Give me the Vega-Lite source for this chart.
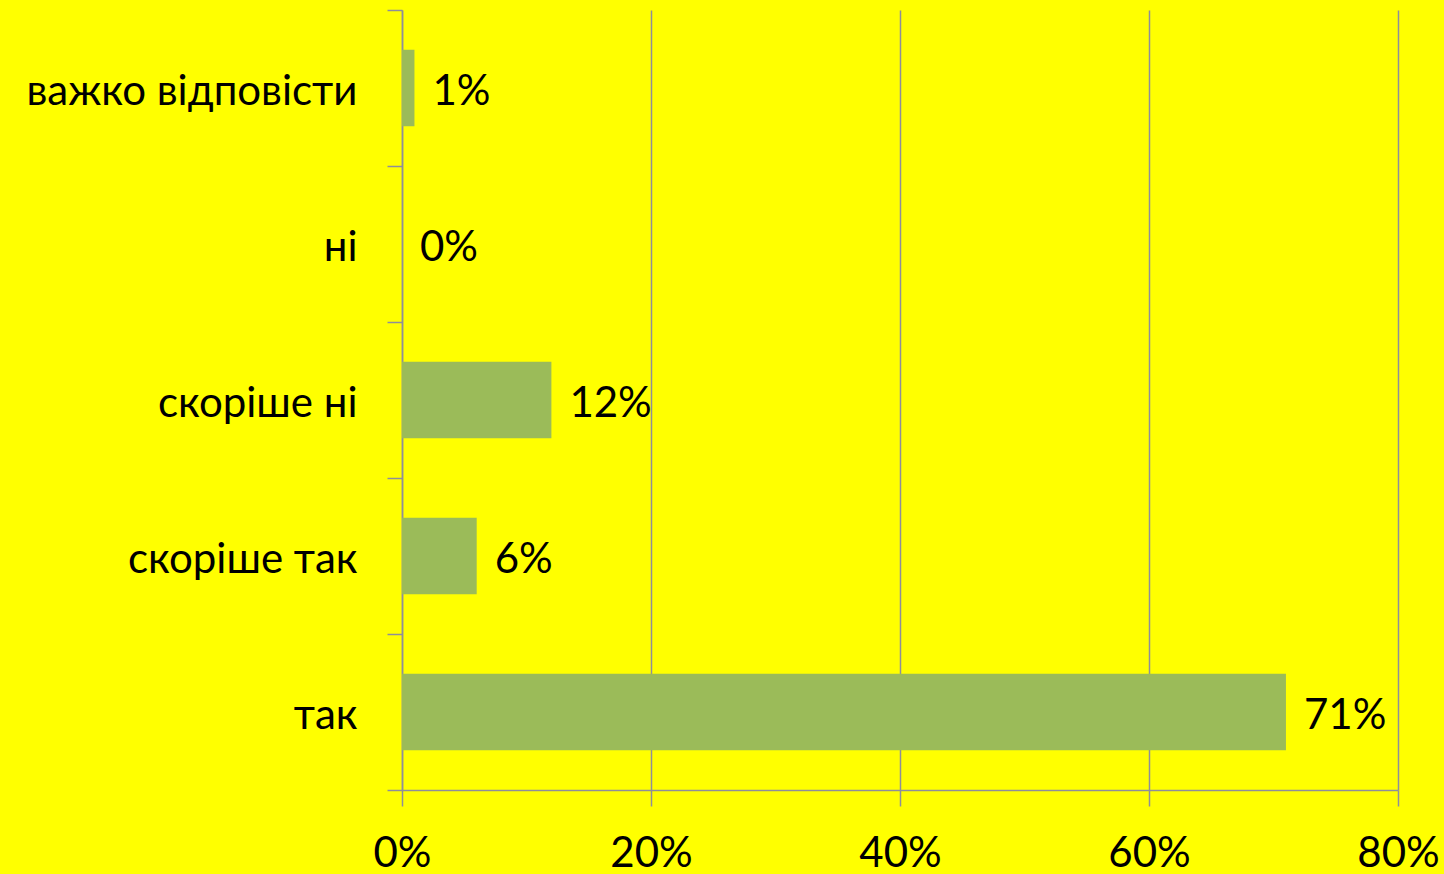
{
  "$schema": "https://vega.github.io/schema/vega-lite/v6.json",
  "width": 996,
  "height": 780,
  "autosize": {"type": "none"},
  "padding": {"left": 402, "top": 10, "right": 46, "bottom": 84},
  "background": "#FFFF00",
  "config": {
    "view": {"stroke": null},
    "font": "Lato"
  },
  "data": {
    "values": [
      {"answer": "важко відповісти", "share": 0.01},
      {"answer": "ні", "share": 0.0},
      {"answer": "скоріше ні", "share": 0.12},
      {"answer": "скоріше так", "share": 0.06},
      {"answer": "так", "share": 0.71}
    ]
  },
  "encoding": {
    "y": {
      "field": "answer",
      "type": "nominal",
      "sort": null,
      "scale": {"paddingInner": 0, "paddingOuter": 0},
      "axis": {
        "title": null,
        "domainColor": "#8E8E9A",
        "domainWidth": 1.5,
        "tickColor": "#8E8E9A",
        "tickWidth": 1.5,
        "tickSize": 15,
        "tickBand": "extent",
        "labelFontSize": 42,
        "labelColor": "#000000",
        "labelPadding": 30,
        "labelLimit": 500,
        "labelFont": "Lato",
        "labelBaseline": "middle",
        "labelOffset": 3,
        "grid": false
      }
    },
    "x": {
      "field": "share",
      "type": "quantitative",
      "scale": {"domain": [0, 0.8]},
      "axis": {
        "title": null,
        "format": ".0%",
        "values": [0, 0.2, 0.4, 0.6, 0.8],
        "domainColor": "#8E8E9A",
        "domainWidth": 1.5,
        "tickColor": "#8E8E9A",
        "tickWidth": 1.5,
        "tickSize": 16,
        "grid": true,
        "gridColor": "#8E8E9A",
        "gridWidth": 1.5,
        "gridOpacity": 1,
        "labelFontSize": 42,
        "labelColor": "#000000",
        "labelPadding": 27,
        "labelFlush": false,
        "labelOverlap": false,
        "labelFont": "Lato"
      }
    }
  },
  "layer": [
    {"mark": {"type": "bar", "color": "#9BBB59", "height": {"band": 0.49}}},
    {
      "mark": {"type": "text", "align": "left", "baseline": "middle", "dx": 18, "dy": 4, "fontSize": 42, "font": "Lato", "color": "#000000"},
      "encoding": {"text": {"field": "share", "type": "quantitative", "format": ".0%"}}
    }
  ]
}
